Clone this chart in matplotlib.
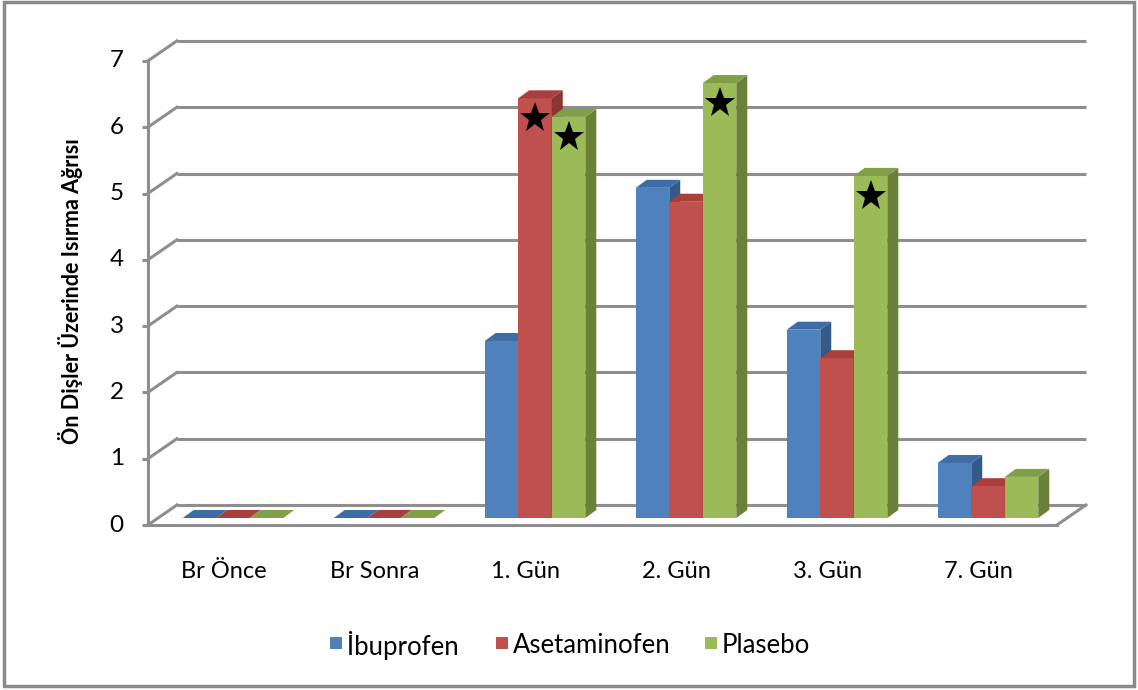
import matplotlib
matplotlib.use("Agg")
import matplotlib.pyplot as plt
from matplotlib.patches import Polygon, Rectangle
import numpy as np

plt.rcParams["font.family"] = ["Lato", "DejaVu Sans"]

categories = ["Br Önce", "Br Sonra", "1. Gün", "2. Gün", "3. Gün", "7. Gün"]
series_names = ["İbuprofen", "Asetaminofen", "Plasebo"]
ibuprofen = [0.0, 0.0, 2.67, 4.98, 2.84, 0.83]
asetaminofen = [0.0, 0.0, 6.33, 4.77, 2.41, 0.48]
plasebo = [0.0, 0.0, 6.05, 6.56, 5.16, 0.62]
# (category index, series index) of the starred bars
stars = [(2, 1), (2, 2), (3, 2), (4, 2)]
y_ticks = [0, 1, 2, 3, 4, 5, 6, 7]
y_label = "Ön Dişler Üzerinde Isırma Ağrısı"

FRONT = ["#4F81BD", "#C0504D", "#9BBB59"]
TOP = ["#3E6DA6", "#A83F3C", "#819F47"]
SIDE = ["#345A88", "#8B3432", "#6A8137"]
GRID = "#8E8E8E"

# layout: data units -> pixels (151 px per category, 66.3 px per unit)
PX_X, PX_Y = 151.0, 66.3
X0_PX, Y0_PX = 233.0, 518.0
W, H = 1138, 690
BOX = (100, 20, 1100, 610)  # left, top, right, bottom in pixels
BAR_W = 0.222
DEPTH = (11 / PX_X, 8 / PX_Y)
FRONT_OFF = (-9.6 / PX_X, -7 / PX_Y)
BACK_OFF = (19.4 / PX_X, 13 / PX_Y)
X_LEFT, X_RIGHT = -0.5, 5.52
LEGEND_X = [330, 496, 705]  # pixel x of each legend swatch
LEGEND_Y = 643

fig = plt.figure(figsize=(W / 100, H / 100), dpi=100)
ax = fig.add_axes([BOX[0] / W, 1 - BOX[3] / H, (BOX[2] - BOX[0]) / W, (BOX[3] - BOX[1]) / H])
ax.set_xlim((BOX[0] - X0_PX) / PX_X, (BOX[2] - X0_PX) / PX_X)
ax.set_ylim((Y0_PX - BOX[3]) / PX_Y, (Y0_PX - BOX[1]) / PX_Y)
ax.axis("off")

# back wall gridlines and left side wall diagonals
for t in y_ticks:
    ax.plot([X_LEFT + BACK_OFF[0], X_RIGHT + BACK_OFF[0]], [t + BACK_OFF[1]] * 2,
            color=GRID, lw=2.2, solid_capstyle="butt", zorder=1)
    ax.plot([X_LEFT + FRONT_OFF[0], X_LEFT + BACK_OFF[0]], [t + FRONT_OFF[1], t + BACK_OFF[1]],
            color=GRID, lw=2.2, zorder=1)
    ax.plot([X_LEFT + FRONT_OFF[0] - 0.042, X_LEFT + FRONT_OFF[0]], [t + FRONT_OFF[1]] * 2,
            color=GRID, lw=2.2, solid_capstyle="butt", zorder=1)
    ax.text(X_LEFT + FRONT_OFF[0] - 0.16, t + FRONT_OFF[1], str(t), ha="right", va="center",
            fontsize=17.5, color="black")

# front vertical axis, floor front edge and right floor edge
ax.plot([X_LEFT + FRONT_OFF[0]] * 2, [FRONT_OFF[1], y_ticks[-1] + FRONT_OFF[1]], color=GRID, lw=2.2, zorder=1)
ax.plot([X_LEFT + FRONT_OFF[0], X_RIGHT + FRONT_OFF[0]], [FRONT_OFF[1]] * 2, color=GRID, lw=2.2, zorder=1)
ax.plot([X_RIGHT + FRONT_OFF[0], X_RIGHT + BACK_OFF[0]], [FRONT_OFF[1], BACK_OFF[1]], color=GRID, lw=2.2, zorder=1)

values = [ibuprofen, asetaminofen, plasebo]
x = np.arange(len(categories))
dx, dy = DEPTH
for s, vals in enumerate(values):
    left = x + (s - 1.5) * BAR_W
    z = 3 + s
    ax.bar(left, vals, width=BAR_W, align="edge", color=FRONT[s], edgecolor="none", zorder=z)
    for xl, v in zip(left, vals):
        xr = xl + BAR_W
        ax.add_patch(Polygon([(xr, 0), (xr + dx, dy), (xr + dx, v + dy), (xr, v)],
                             closed=True, facecolor=SIDE[s], edgecolor="none", zorder=z))
        ax.add_patch(Polygon([(xl, v), (xl + dx, v + dy), (xr + dx, v + dy), (xr, v)],
                             closed=True, facecolor=TOP[s], edgecolor="none", zorder=z))

for ci, si in stars:
    cx = x[ci] + (si - 1) * BAR_W
    ax.plot(cx, values[si][ci] - 0.3, marker="*", color="black", markersize=23,
            markeredgewidth=0, zorder=10)

for xi, name in zip(x, categories):
    ax.text(xi + FRONT_OFF[0], (Y0_PX - 572) / PX_Y, name, ha="center", va="center", fontsize=17)

fig.text(71 / W, 1 - 291 / H, y_label, rotation=90, ha="center", va="center",
         fontsize=15.5, fontweight="bold")

# legend: 12 px swatches followed by the series name
for lx, name, c in zip(LEGEND_X, series_names, FRONT):
    fig.add_artist(Rectangle((lx / W, 1 - (LEGEND_Y + 6) / H), 12 / W, 12 / H,
                             transform=fig.transFigure, facecolor=c, edgecolor="none"))
    fig.text((lx + 17) / W, 1 - LEGEND_Y / H, name, ha="left", va="center_baseline", fontsize=18.5)

fig.add_artist(Rectangle((4 / W, 1 - 686 / H), 1130 / W, 684 / H, transform=fig.transFigure,
                         fill=False, edgecolor="#8A8A8A", lw=2.5))

fig.savefig("out.png", dpi=100)
